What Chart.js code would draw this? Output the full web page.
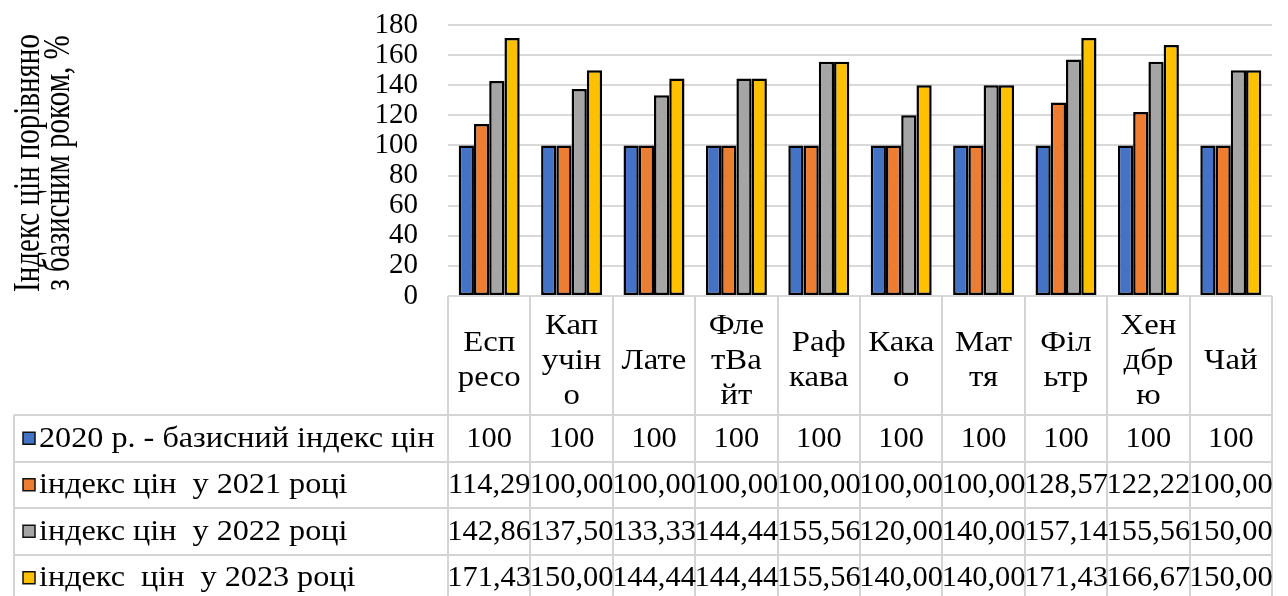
<!DOCTYPE html>
<html lang="uk">
<head>
<meta charset="utf-8">
<title>Індекс цін порівняно з базисним роком</title>
<script src="https://cdn.jsdelivr.net/npm/chart.js@4/dist/chart.umd.min.js"></script>
<style>
  html, body { margin: 0; padding: 0; background: #ffffff; }
  #wrap { width: 1288px; height: 596px; }
</style>
</head>
<body>
<div id="wrap"><canvas id="chart" width="1288" height="596"></canvas></div>
<script>
// Drinks (header cells are pre-wrapped the way the table shows them)
const categories = [
  ["Есп", "ресо"],
  ["Кап", "учін", "о"],
  ["Лате"],
  ["Фле", "тВа", "йт"],
  ["Раф", "кава"],
  ["Кака", "о"],
  ["Мат", "тя"],
  ["Філ", "ьтр"],
  ["Хен", "дбр", "ю"],
  ["Чай"]
];

const seriesNames = [
  "2020 р. - базисний індекс цін",
  "індекс цін  у 2021 році",
  "індекс цін  у 2022 році",
  "індекс  цін  у 2023 році"
];

const index2020 = [100, 100, 100, 100, 100, 100, 100, 100, 100, 100];
const index2021 = [114.29, 100.00, 100.00, 100.00, 100.00, 100.00, 100.00, 128.57, 122.22, 100.00];
const index2022 = [142.86, 137.50, 133.33, 144.44, 155.56, 120.00, 140.00, 157.14, 155.56, 150.00];
const index2023 = [171.43, 150.00, 144.44, 144.44, 155.56, 140.00, 140.00, 171.43, 166.67, 150.00];

const seriesDecimals = [0, 2, 2, 2];
const yTicks = [0, 20, 40, 60, 80, 100, 120, 140, 160, 180];
const axisTitle = ["Індекс цін порівняно", "з базисним роком, %"];

const colors = ["#4472C4", "#ED7D31", "#A5A5A5", "#FFC000"];
const FONT = '"Liberation Serif", "Times New Roman", serif';
const FONT_SIZE = 29;
const LINE = "#d4d4d4";

function fmt(v, d) {
  return v.toFixed(d).replace(".", ",");
}

// text drawn with a horizontal stretch around its anchor point
function drawWide(ctx, text, x, y, sx) {
  ctx.save();
  ctx.translate(x, y);
  ctx.scale(sx, 1);
  ctx.fillText(text, 0, 0);
  ctx.restore();
}

const allSeries = [index2020, index2021, index2022, index2023];

// Data table under the plot + rotated axis title
const dataTablePlugin = {
  id: "dataTable",
  afterDraw(chart) {
    const ctx = chart.ctx;
    const area = chart.chartArea;
    const x = chart.scales.x;
    const n = categories.length;
    const colW = (area.right - area.left) / n;
    const headerBottom = 415;
    const rowH = 46.5;
    const tableLeft = 14;
    const tableBottom = headerBottom + rowH * allSeries.length;

    ctx.save();
    ctx.strokeStyle = LINE;
    ctx.lineWidth = 2;

    // vertical cell borders
    for (let i = 0; i <= n; i++) {
      const bx = Math.round(area.left + i * colW);
      ctx.beginPath();
      ctx.moveTo(bx, area.bottom);
      ctx.lineTo(bx, tableBottom);
      ctx.stroke();
    }
    ctx.beginPath();
    ctx.moveTo(tableLeft, headerBottom);
    ctx.lineTo(tableLeft, tableBottom);
    ctx.stroke();

    // horizontal row borders
    for (let r = 0; r <= allSeries.length; r++) {
      const by = Math.round(headerBottom + r * rowH);
      ctx.beginPath();
      ctx.moveTo(tableLeft, by);
      ctx.lineTo(area.right, by);
      ctx.stroke();
    }

    ctx.fillStyle = "#000";
    ctx.font = FONT_SIZE + "px " + FONT;
    ctx.textAlign = "center";
    ctx.textBaseline = "middle";

    // header labels
    const headerMid = 360;
    const lh = 35;
    categories.forEach((lines, i) => {
      const cx = x.getPixelForValue(i);
      const y0 = headerMid - (lines.length - 1) * lh / 2;
      lines.forEach((t, k) => drawWide(ctx, t, cx, y0 + k * lh + 1, 1.13));
    });

    // value rows with legend keys
    allSeries.forEach((vals, r) => {
      const cy = headerBottom + r * rowH + rowH / 2 + 1;
      vals.forEach((v, i) => {
        drawWide(ctx, fmt(v, seriesDecimals[r]), x.getPixelForValue(i), cy, 1.05);
      });
      ctx.fillStyle = colors[r];
      ctx.fillRect(23, cy - 7, 12, 12);
      ctx.strokeStyle = "#111";
      ctx.lineWidth = 1.5;
      ctx.strokeRect(23, cy - 7, 12, 12);
      ctx.fillStyle = "#000";
      ctx.textAlign = "left";
      drawWide(ctx, seriesNames[r], 39, cy, 1.11);
      ctx.textAlign = "center";
    });

    // rotated y axis title, two lines
    const midY = 163;
    ctx.textBaseline = "alphabetic";
    [39, 69].forEach((bx, k) => {
      ctx.save();
      ctx.translate(bx, midY);
      ctx.rotate(-Math.PI / 2);
      ctx.scale(1, 1.28);
      ctx.fillText(axisTitle[k], 0, 0);
      ctx.restore();
    });

    ctx.restore();
  }
};

const datasets = allSeries.map((vals, i) => ({
  label: seriesNames[i],
  data: vals,
  backgroundColor: colors[i],
  borderColor: "#000000",
  borderWidth: 2.5,
  borderSkipped: false,
  categoryPercentage: 0.74,
  barPercentage: 1.0
}));

new Chart(document.getElementById("chart"), {
  type: "bar",
  data: {
    labels: categories.map(c => c.join("")),
    datasets: datasets
  },
  options: {
    responsive: false,
    animation: false,
    layout: { padding: { left: 0, top: 25, right: 16, bottom: 300 } },
    plugins: {
      legend: { display: false },
      tooltip: { enabled: false }
    },
    scales: {
      x: {
        display: false,
        grid: { display: false }
      },
      y: {
        min: 0,
        max: 180,
        afterBuildTicks(scale) {
          scale.ticks = yTicks.map(v => ({ value: v }));
        },
        afterFit(scale) {
          scale.width = 448;
          scale.paddingTop = 0;
          scale.paddingBottom = 0;
        },
        border: { display: false },
        grid: { color: "#d9d9d9", lineWidth: 2, drawTicks: false },
        ticks: {
          autoSkip: false,
          padding: 30,
          color: "#000",
          font: { family: FONT, size: FONT_SIZE }
        }
      }
    }
  },
  plugins: [dataTablePlugin]
});
</script>
</body>
</html>
